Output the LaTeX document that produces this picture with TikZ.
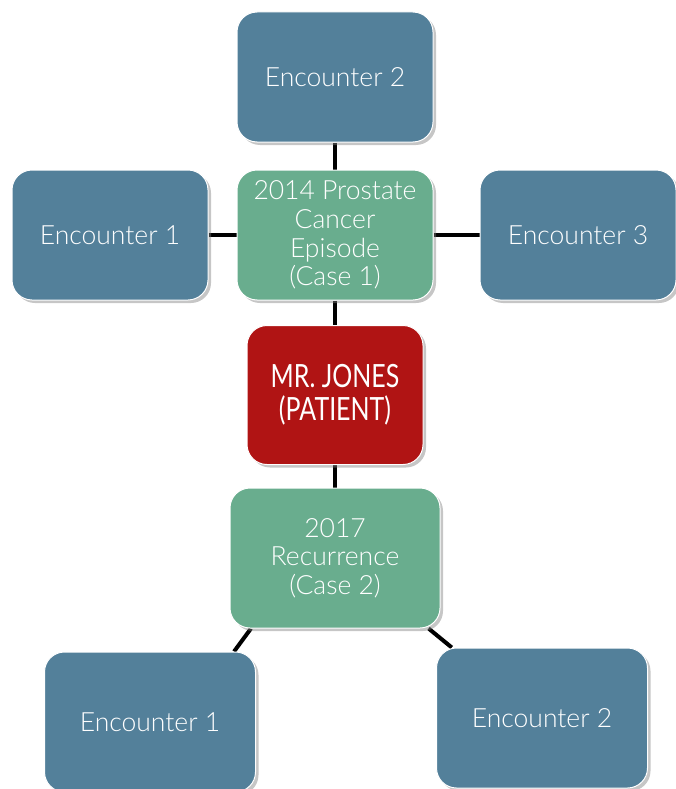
\documentclass[tikz,border=0pt]{standalone}
\usepackage{fontspec}
\setmainfont{Lato Light}
\newfontfamily\narrowfont[FakeStretch=0.78]{Lato}
\usetikzlibrary{shadows,backgrounds}

\definecolor{encblue}{HTML}{53809A}
\definecolor{casegreen}{HTML}{69AD8E}
\definecolor{patred}{HTML}{B01414}

\begin{document}
\begin{tikzpicture}[x=1pt,y=-1pt]
\tikzstyle{every node}+=[inner sep=0pt]
\tikzstyle{box}=[rectangle, rounded corners=20pt, draw=white, line width=1pt,
  text=white, align=center, font=\fontsize{26.5}{28.7}\selectfont,
  minimum width=196pt, minimum height=130pt,
  drop shadow={shadow xshift=3pt, shadow yshift=-3pt, opacity=0.45}]
\tikzstyle{enc}=[box, fill=encblue]
\tikzstyle{case}=[box, fill=casegreen]
\tikzstyle{link}=[black, line width=4pt]
\useasboundingbox (0,0) rectangle (676,789);
\clip (0,0) rectangle (676,789);
% top row
\node [enc] (enctop) at (335,77) {Encounter 2};
\node [enc] (encleft) at (110,235) {Encounter 1};
\node [case] (caseone) at (335,235) {2014 Prostate\\Cancer\\Episode\\(Case 1)};
\node [enc] (encright) at (578,235) {Encounter 3};
% patient
\node [box, fill=patred, minimum width=176pt, minimum height=139pt,
  font=\narrowfont\fontsize{32}{33}\selectfont] (patient) at (335,395) {MR. JONES\\(PATIENT)};
% second case
\node [case, minimum width=210pt, minimum height=140pt] (casetwo) at (335,558) {2017\\Recurrence\\(Case 2)};
\node [enc, minimum width=211pt, minimum height=140pt] (encbl) at (150,722) {Encounter 1};
\node [enc, minimum width=211pt, minimum height=140pt] (encbr) at (542,718) {Encounter 2};
\begin{pgfonlayer}{background}
\draw [link] (enctop) -- (caseone);
\draw [link] (encleft) -- (caseone);
\draw [link] (caseone) -- (encright);
\draw [link] (caseone) -- (patient);
\draw [link] (patient) -- (casetwo);
\draw [link] (casetwo.220.8) -- (encbl.40);
\draw [link] (casetwo.-37) -- (encbr.142.6);
\end{pgfonlayer}
\end{tikzpicture}
\end{document}
